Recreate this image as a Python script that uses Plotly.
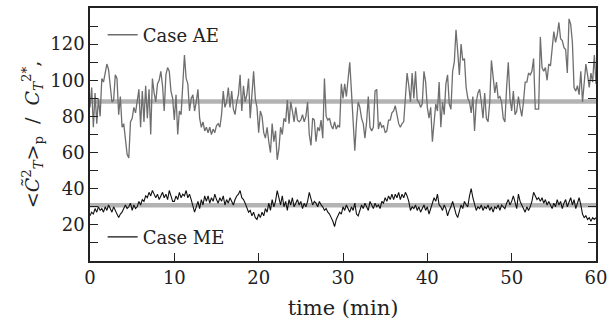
import plotly.graph_objects as go

# time axis in minutes (0.2-min steps)
time_min = [round(i * 0.2, 1) for i in range(301)]

case_ae = [
    85, 96, 74, 93, 76, 90, 80, 101, 99, 104,
    109, 106, 96, 88, 89, 103, 101, 81, 91, 74,
    76, 66, 59, 57, 77, 79, 85, 82, 90, 95,
    74, 94, 77, 97, 79, 95, 70, 101, 93, 88,
    98, 100, 105, 97, 83, 103, 107, 105, 94, 90,
    78, 92, 70, 83, 81, 96, 114, 101, 98, 83,
    90, 92, 83, 88, 95, 79, 74, 77, 72, 74,
    71, 74, 70, 73, 71, 75, 76, 74, 81, 94,
    85, 88, 96, 85, 94, 84, 81, 88, 92, 103,
    83, 97, 88, 92, 101, 79, 95, 105, 90, 85,
    71, 83, 80, 71, 68, 74, 66, 60, 76, 66,
    72, 56, 62, 74, 70, 79, 77, 89, 76, 88,
    83, 77, 85, 78, 77, 78, 81, 77, 80, 88,
    70, 64, 79, 78, 66, 74, 72, 78, 68, 101,
    80, 78, 79, 75, 73, 77, 73, 75, 74, 98,
    90, 98, 91, 101, 110, 94, 74, 61, 77, 88,
    85, 79, 76, 68, 77, 91, 74, 72, 74, 94,
    95, 73, 77, 74, 75, 71, 72, 78, 78, 82,
    83, 86, 81, 76, 74, 76, 77, 94, 104, 97,
    88, 104, 90, 105, 89, 88, 85, 87, 105, 99,
    85, 79, 85, 66, 77, 87, 83, 99, 74, 88,
    81, 98, 103, 87, 84, 105, 110, 128, 116, 103,
    120, 111, 112, 96, 90, 88, 82, 91, 72, 88,
    93, 95, 88, 79, 93, 79, 77, 88, 111, 101,
    93, 99, 90, 91, 88, 79, 77, 96, 110, 90,
    83, 94, 81, 83, 91, 85, 80, 88, 99, 99,
    104, 103, 105, 112, 84, 84, 84, 124, 107, 105,
    107, 100, 109, 108, 116, 127, 121, 125, 132, 123,
    122, 118, 117, 104, 134, 131, 121, 96, 94, 97,
    92, 105, 88, 99, 109, 103, 96, 104, 99, 114,
    98,
]

case_me = [
    25, 27, 26, 29, 27, 30, 28, 29, 27, 30,
    28, 31, 29, 27, 30, 28, 26, 24, 26, 27,
    29, 31, 29, 30, 32, 28, 31, 29, 30, 33,
    31, 34, 33, 36, 35, 38, 36, 39, 37, 35,
    37, 34, 36, 38, 35, 37, 34, 39, 36, 33,
    33, 36, 34, 38, 35, 37, 36, 39, 35, 37,
    34, 31, 27, 30, 33, 29, 34, 31, 36, 33,
    36, 32, 35, 33, 37, 34, 32, 35, 33, 36,
    31, 34, 32, 35, 33, 31, 34, 36, 37, 39,
    35, 34, 32, 29, 27, 28, 25, 27, 24, 23,
    26, 24, 27, 25, 29, 27, 32, 28, 34, 30,
    33, 39, 35, 31, 36, 30, 33, 28, 34, 31,
    35, 30, 32, 34, 31, 33, 29, 32, 30, 33,
    38, 34, 31, 33, 32, 30, 33, 31, 30, 28,
    29, 27, 26, 24, 22, 19, 23, 25, 27, 26,
    30, 28, 31, 29, 27, 30, 28, 32, 26, 25,
    28, 31, 29, 32, 30, 28, 33, 31, 29, 32,
    30, 31, 29, 33, 32, 35, 33, 36, 34, 37,
    34, 37, 35, 38, 34, 37, 35, 38, 36, 33,
    28, 30, 29, 31, 28, 30, 27, 29, 31, 28,
    30, 26, 29, 32, 35, 33, 37, 31, 30, 28,
    31, 29, 25, 28, 30, 33, 29, 26, 24, 28,
    31, 29, 33, 31, 30, 36, 40, 35, 31, 28,
    30, 29, 31, 28, 30, 29, 31, 28, 30, 27,
    30, 29, 31, 28, 31, 30, 29, 32, 34, 31,
    33, 36, 32, 29, 37, 33, 31, 29, 27, 30,
    28, 30, 33, 38, 36, 34, 35, 33, 35, 32,
    34, 31, 33, 31, 29, 32, 30, 34, 31, 33,
    29, 32, 34, 30, 33, 35, 31, 34, 29, 32,
    35, 31, 26, 24, 25, 23, 24, 22, 24, 23,
    24,
]

ae_mean = 88.3
me_mean = 30.8
mean_span = [0, 60]

y_tickvals = [20, 40, 60, 80, 100, 120]
x_tickvals = [0, 10, 20, 30, 40, 50, 60]

FONT = "DejaVu Serif"

fig = go.Figure()
fig.add_trace(go.Scatter(x=mean_span, y=[ae_mean, ae_mean], mode="lines",
                         line=dict(color="#b3b3b3", width=4.5), showlegend=False,
                         hoverinfo="skip"))
fig.add_trace(go.Scatter(x=mean_span, y=[me_mean, me_mean], mode="lines",
                         line=dict(color="#b3b3b3", width=4.5), showlegend=False,
                         hoverinfo="skip"))
fig.add_trace(go.Scatter(x=time_min, y=case_ae, mode="lines", name="Case AE",
                         line=dict(color="#6e6e6e", width=1.3), legend="legend"))
fig.add_trace(go.Scatter(x=time_min, y=case_me, mode="lines", name="Case ME",
                         line=dict(color="#111111", width=1.1), legend="legend2"))

legend_common = dict(xanchor="left", yanchor="middle", bgcolor="rgba(0,0,0,0)",
                     font=dict(family=FONT, size=18, color="#222"),
                     itemwidth=30, tracegroupgap=0)

fig.update_layout(
    width=613, height=326,
    margin=dict(l=90, r=12, t=6, b=65),
    paper_bgcolor="white", plot_bgcolor="white",
    font=dict(family=FONT, size=18, color="#222"),
    legend=dict(x=0.025, y=0.893, **legend_common),
    legend2=dict(x=0.025, y=0.094, **legend_common),
    xaxis=dict(range=[0, 60], tickmode="array", tickvals=x_tickvals,
               ticks="inside", ticklen=8, tickwidth=1.2, tickcolor="#222",
               showline=True, linecolor="#222", linewidth=1.6, mirror=True,
               showgrid=False, zeroline=False,
               tickfont=dict(family=FONT, size=18, color="#222"),
               title=dict(text="time (min)", standoff=13,
                          font=dict(family=FONT, size=21, color="#222"))),
    yaxis=dict(range=[0, 140], tickmode="array", tickvals=y_tickvals,
               ticks="inside", ticklen=8, tickwidth=1.2, tickcolor="#222",
               minor=dict(tickmode="linear", tick0=0, dtick=10, ticks="inside",
                          ticklen=8, tickwidth=1.2, tickcolor="#222", showgrid=False),
               showline=True, linecolor="#222", linewidth=1.6, mirror="ticks",
               showgrid=False, zeroline=False,
               tickfont=dict(family=FONT, size=18, color="#222"),
               title=dict(text="&lt;<i>C\u0303</i><sup>2</sup><sub><i>T</i></sub>&gt;<sub>p</sub>  /  "
                               "<i>C</i><sub><i>T</i></sub><sup>2</sup><sup>*</sup>,",
                          standoff=6,
                          font=dict(family=FONT, size=19, color="#222"))),
)

fig.write_html("out.html")
